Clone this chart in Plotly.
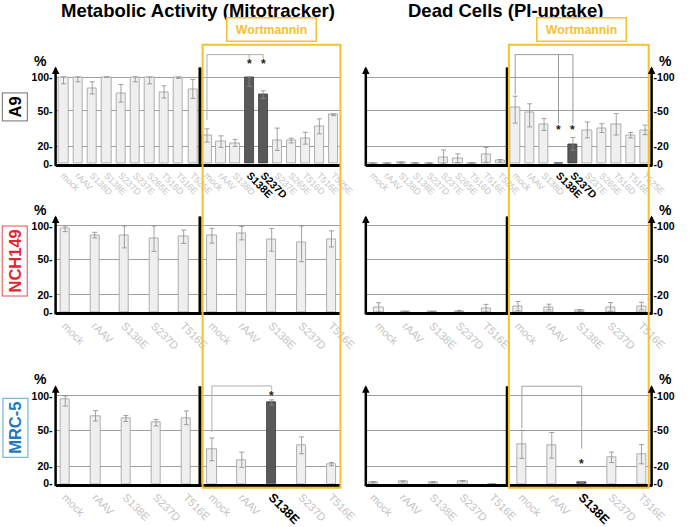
import numpy as np
import plotly.graph_objects as go

W, H = 693, 527

# ---------------- data ----------------
labels10 = ["mock", "rAAV", "S138D", "S138E", "S237D", "S237E", "S265E", "T516D", "T516E", "T525E"]
labels5 = ["mock", "rAAV", "S138E", "S237D", "T516E"]

# Metabolic activity (Mitotracker), %
a9_meta_ctrl = [100, 104, 84, 109, 76, 100, 104, 78, 105, 82.5]
a9_meta_ctrl_err = [10, 11, 9, 6.5, 13, 7, 14, 9, 7, 14]
a9_meta_wort = [29.3, 24, 23, 103, 74, 25.5, 25, 27, 37, 46.7]
a9_meta_wort_err = [5.6, 5, 3, 16.5, 5.7, 10, 2, 5, 6.3, 0.7]

nch_meta_ctrl = [96.3, 86.4, 86.4, 82.2, 84]
nch_meta_ctrl_err = [4.7, 4.2, 19, 20, 10]
nch_meta_wort = [85.5, 89.3, 79.4, 75.2, 80.8]
nch_meta_wort_err = [11, 10, 17, 27, 12]

mrc_meta_ctrl = [95.2, 71, 67.1, 61, 68.1]
mrc_meta_ctrl_err = [10, 7.6, 4.3, 4.8, 10]
mrc_meta_wort = [34, 25.2, 90.5, 37.4, 21.7]
mrc_meta_wort_err = [9.5, 6.5, 3.8, 7, 1.4]

# Dead cells (PI-uptake), %
a9_dead_ctrl = [0.5, 0.5, 1.2, 0.8, 0.5, 8, 6.5, 0.8, 10.4, 3.5]
a9_dead_ctrl_err = [0.3, 0.3, 1, 0.3, 0.2, 8, 5, 0.3, 8.5, 1.5]
a9_dead_wort = [55.7, 48.5, 38.5, 0.5, 21.6, 34, 35.5, 38.7, 29.5, 34]
a9_dead_wort_err = [16, 12, 5, 0, 6, 6.7, 3.7, 9, 2.3, 4]

nch_dead_ctrl = [5.2, 0.3, 0.3, 1.0, 4.4]
nch_dead_ctrl_err = [5.7, 0, 0, 1, 4.6]
nch_dead_wort = [7, 5.9, 1.7, 6, 7]
nch_dead_wort_err = [5.4, 3.3, 1.3, 5, 4.4]

mrc_dead_ctrl = [1.8, 2.5, 1.8, 2.9, 0]
mrc_dead_ctrl_err = [0.7, 0.5, 0.5, 0.5, 0]
mrc_dead_wort = [38.2, 37.4, 1.8, 27.4, 30.0]
mrc_dead_wort_err = [11.7, 10.7, 0, 4.4, 8]

# highlighted (significant) bars in the wortmannin groups
a9_highlight = ["S138E", "S237D"]
mrc_highlight = ["S138E"]

row_names = ["A9", "NCH149", "MRC-5"]
titles = ["Metabolic Activity (Mitotracker)", "Dead Cells (PI-uptake)"]

# ---------------- scale (chart's non-linear % axis) ----------------
TICKS = [0, 20, 50, 100]
TPOS = [0, 20, 61, 100]


def T(v):
    return np.interp(np.asarray(v, dtype=float), TICKS, TPOS)


def X(px):
    return px / W


def Y(py):
    return 1 - py / H


# ---------------- layout geometry (pixels) ----------------
baselines = [168, 320, 496]
scale100 = [89, 88.3, 90]
YMAX = 110
cols = [dict(x0=57, sep=205, x1=349), dict(x0=375, sep=520, x1=668)]
xranges = {
    (0, 0): ([-0.55, 9.5], [-0.5, 9.5]),
    (0, 1): ([-0.5, 9.5], [-0.55, 9.45]),
    (1, 0): ([-0.32, 4.55], [-0.4, 4.3]),
    (1, 1): ([-0.48, 4.79], [-0.35, 4.33]),
    (2, 0): ([-0.32, 4.45], [-0.4, 4.3]),
    (2, 1): ([-0.25, 4.49], [-0.49, 4.34]),
}

panels = {
    (0, 0): (a9_meta_ctrl, a9_meta_ctrl_err, a9_meta_wort, a9_meta_wort_err, labels10, a9_highlight),
    (0, 1): (a9_dead_ctrl, a9_dead_ctrl_err, a9_dead_wort, a9_dead_wort_err, labels10, a9_highlight),
    (1, 0): (nch_meta_ctrl, nch_meta_ctrl_err, nch_meta_wort, nch_meta_wort_err, labels5, []),
    (1, 1): (nch_dead_ctrl, nch_dead_ctrl_err, nch_dead_wort, nch_dead_wort_err, labels5, []),
    (2, 0): (mrc_meta_ctrl, mrc_meta_ctrl_err, mrc_meta_wort, mrc_meta_wort_err, labels5, mrc_highlight),
    (2, 1): (mrc_dead_ctrl, mrc_dead_ctrl_err, mrc_dead_wort, mrc_dead_wort_err, labels5, mrc_highlight),
}

LIGHT = "#efefef"
LIGHT_LINE = "#9c9c9c"
DARK = "#595959"
GOLD = "#f5c133"
FONT = "Liberation Sans, Arial, sans-serif"

fig = go.Figure()
layout = dict(width=W, height=H, margin=dict(l=0, r=0, t=0, b=0),
              plot_bgcolor="white", paper_bgcolor="white", showlegend=False,
              bargap=0, font=dict(family=FONT))
shapes, annotations = [], []
axis_ids = {}


def ax_name(k, letter):
    return f"{letter}axis" if k == 1 else f"{letter}axis{k}"


def ax_ref(k, letter):
    return letter if k == 1 else f"{letter}{k}"


k = 0
for r in range(3):
    base = baselines[r]
    top = base - scale100[r] * YMAX / 100
    for c in range(2):
        col = cols[c]
        ctrl, ctrl_e, wort, wort_e, labs, hl = panels[(r, c)]
        for g in range(2):
            k += 1
            axis_ids[(r, c, g)] = k
            vals = ctrl if g == 0 else wort
            errs = ctrl_e if g == 0 else wort_e
            v = np.array(vals, dtype=float)
            e = np.array(errs, dtype=float)
            up = T(v + e) - T(v)
            dn = T(v) - T(np.maximum(v - e, 0))
            n = len(labs)
            xs = np.arange(n)
            dx0 = col["x0"] if g == 0 else col["sep"]
            dx1 = col["sep"] if g == 0 else col["x1"]
            rng = xranges[(r, c)][g]
            catpx = (dx1 - dx0) / (rng[1] - rng[0])
            bw = 9.5 / catpx
            colors = []
            lines = []
            ticktext = []
            fsz = 9 if n == 10 else 11
            for lab in labs:
                if g == 1 and lab in hl:
                    colors.append(DARK)
                    lines.append("#3a3a3a")
                    ticktext.append(f"<span style='color:#000000;font-size:{fsz+1.5}px'><b>{lab}</b></span>")
                else:
                    colors.append(LIGHT)
                    lines.append(LIGHT_LINE)
                    ticktext.append(lab)
            fig.add_trace(go.Bar(
                x=xs, y=T(v), width=bw,
                marker=dict(color=colors, line=dict(color=lines, width=0.8)),
                error_y=dict(type="data", symmetric=False, array=up, arrayminus=dn,
                             color="#8a8a8a", thickness=0.8, width=2.5),
                xaxis=ax_ref(k, "x"), yaxis=ax_ref(k, "y"), hoverinfo="skip",
            ))
            layout[ax_name(k, "x")] = dict(
                domain=[X(dx0), X(dx1)], anchor=ax_ref(k, "y"), range=rng,
                tickvals=list(xs), ticktext=ticktext, tickangle=45,
                tickfont=dict(size=fsz, color="#c4c4c4", family=FONT),
                showline=True, linecolor="black", linewidth=3, showgrid=False,
                zeroline=False, ticks="", fixedrange=True,
            )
            yax = dict(
                domain=[Y(base), Y(top)], anchor=ax_ref(k, "x"), range=[0, YMAX],
                tickvals=list(T(TICKS)), showgrid=True, gridcolor="#a0a0a0", gridwidth=1,
                zeroline=False, showline=False, ticks="", showticklabels=False,
                fixedrange=True,
            )
            if c == 0 and g == 0:
                yax.update(showticklabels=True, ticktext=[f"{t}-" for t in TICKS],
                           tickfont=dict(size=10.5, color="black", family=FONT, weight="bold"),
                           side="left", ticklabelstandoff=2)
            if c == 1 and g == 1:
                yax.update(showticklabels=True, ticktext=[f"-{t}" for t in TICKS],
                           tickfont=dict(size=10.5, color="black", family=FONT, weight="bold"),
                           side="right", ticklabelstandoff=1)
            layout[ax_name(k, "y")] = yax

        # separators (thick black vertical between groups)
        shapes.append(dict(type="line", xref="paper", yref="paper",
                           x0=X(col["sep"]), x1=X(col["sep"]), y0=Y(base + 1), y1=Y(top - 1),
                           line=dict(color="black", width=3)))
        # y axes with arrows
        arrow_xs = [col["x0"]] if c == 0 else [col["x0"], col["x1"]]
        for axx in arrow_xs:
            annotations.append(dict(xref="paper", yref="paper", x=X(axx), y=Y(top - 2),
                                    ax=0, ay=(base + 1.5) - (top - 2), axref="pixel", ayref="pixel",
                                    text="", showarrow=True, arrowhead=2, arrowsize=0.6,
                                    arrowwidth=2.5, arrowcolor="black", standoff=0))
        # % label
        pct_x = 42 if c == 0 else 682
        annotations.append(dict(xref="paper", yref="paper", x=X(pct_x), y=Y(top - 8),
                                text="<b>%</b>", showarrow=False, font=dict(size=14, color="black"),
                                xanchor="center", yanchor="middle"))

# ---------------- titles and Wortmannin boxes ----------------
for c, (tx, wx) in enumerate([(203, 278.5), (518, 596)]):
    annotations.append(dict(xref="paper", yref="paper", x=X(tx), y=Y(-1), text=f"<b>{titles[c]}</b>",
                            showarrow=False, font=dict(size=18.5, color="black"),
                            xanchor="center", yanchor="top", borderpad=0))
    annotations.append(dict(xref="paper", yref="paper", x=X(wx), y=Y(30.5), text="<b>Wortmannin</b>",
                            showarrow=False, font=dict(size=12.3, color=GOLD),
                            bordercolor=GOLD, borderwidth=1.5, borderpad=2, bgcolor="white",
                            width=84, height=18, xanchor="center", yanchor="middle"))
    rx0, rx1 = (207.7, 349) if c == 0 else (521.7, 665)
    shapes.append(dict(type="rect", xref="paper", yref="paper", x0=X(rx0), x1=X(rx1),
                       y0=Y(500), y1=Y(46), line=dict(color=GOLD, width=2), layer="above"))

# ---------------- row labels ----------------
row_label_style = [("black", "#707070", 110), ("#e3262b", "#e8504c", 268), ("#1f78c1", "#5aa6dc", 438.5)]
for name, (tc, bc, cy) in zip(row_names, row_label_style):
    annotations.append(dict(xref="paper", yref="paper", x=X(15.5), y=Y(cy), text=f"<b>{name}</b>",
                            showarrow=False, textangle=-90, font=dict(size=16.5, color=tc),
                            bordercolor=bc, borderwidth=1, borderpad=3, bgcolor="white",
                            xanchor="center", yanchor="middle"))


# ---------------- significance brackets ----------------
def add_bracket(r, c, legs, ybar, color, star_pts):
    k = axis_ids[(r, c, 1)]
    xr = ax_ref(k, "x")
    xs_ = [l[0] for l in legs]
    shapes.append(dict(type="line", xref=xr, yref="paper", x0=min(xs_), x1=max(xs_),
                       y0=Y(ybar), y1=Y(ybar), line=dict(color=color, width=1)))
    for (i, yend) in legs:
        shapes.append(dict(type="line", xref=xr, yref="paper", x0=i, x1=i,
                           y0=Y(ybar), y1=Y(yend), line=dict(color=color, width=1)))
    for (i, ys) in star_pts:
        annotations.append(dict(xref=xr, yref="paper", x=i, y=Y(ys + 3), text="<b>*</b>",
                                showarrow=False, font=dict(size=12, color="#222222"),
                                xanchor="center", yanchor="middle"))


add_bracket(0, 0, [(0, 123), (3, 60), (4, 60)], 56, "#b0b0b0", [(3, 63), (4, 63)])
add_bracket(0, 1, [(0, 96.7), (3, 126.7), (4, 126.7)], 56, "#999999", [(3, 130), (4, 130)])
add_bracket(2, 0, [(0, 443), (2, 400)], 395.7, "#b0b0b0", [(2, 403)])
add_bracket(2, 1, [(0, 439), (2, 460)], 396, "#a0a0a0", [(2, 473)])

layout["shapes"] = shapes
layout["annotations"] = annotations
fig.update_layout(**layout)

fig.write_html("out.html", include_plotlyjs=True, config={"displayModeBar": False},
               post_script="document.body.style.margin='0';document.body.style.overflow='hidden';")
